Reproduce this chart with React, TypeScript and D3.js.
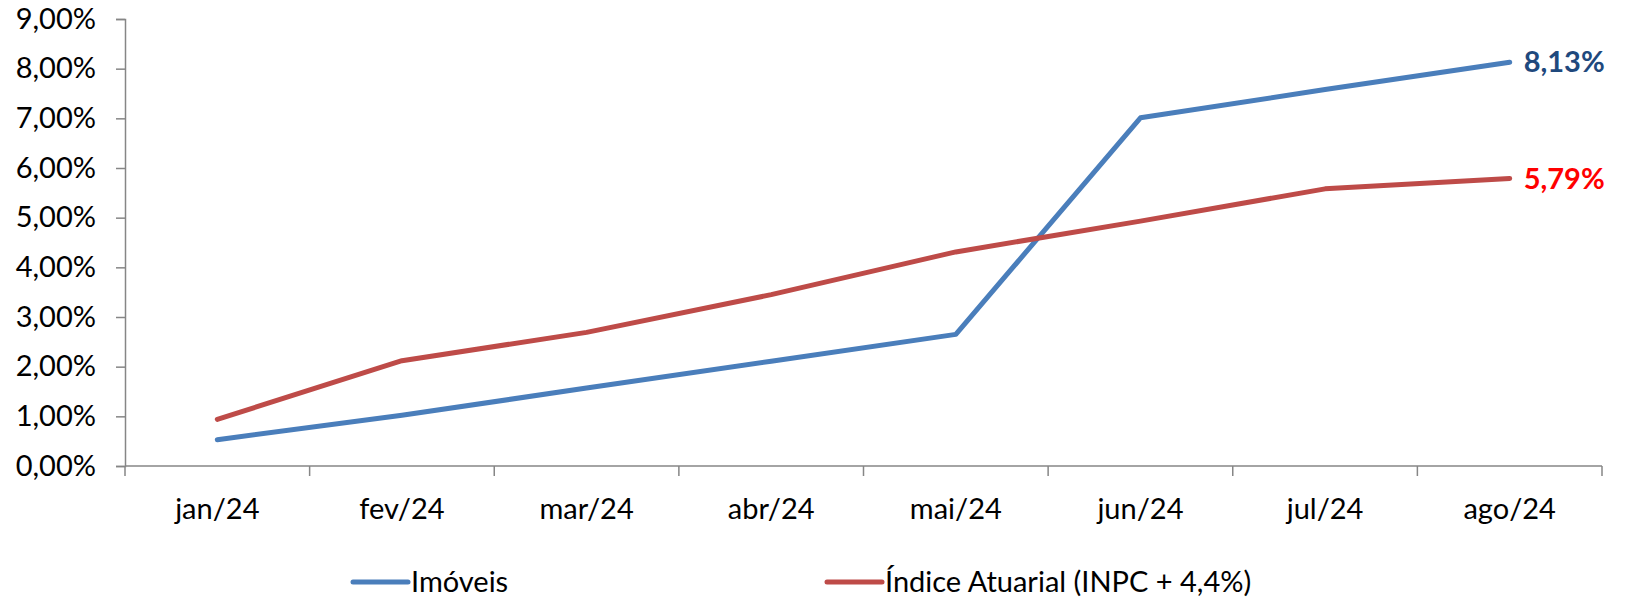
import { useRef, useEffect } from 'react'
import * as d3 from 'd3'

const WIDTH = 1626
const HEIGHT = 599
const MARGIN = { top: 19, right: 24, bottom: 133, left: 125 }
const FONT = 'Lato, "Open Sans", sans-serif'

const MONTHS = ['jan/24', 'fev/24', 'mar/24', 'abr/24', 'mai/24', 'jun/24', 'jul/24', 'ago/24']
const IMOVEIS = [0.53, 1.02, 1.57, 2.11, 2.65, 7.01, 7.58, 8.13]
const INDICE = [0.94, 2.12, 2.69, 3.45, 4.31, 4.93, 5.58, 5.79]
const Y_TICKS = [0, 1, 2, 3, 4, 5, 6, 7, 8, 9]

const SERIES = [
  { name: 'Imóveis', values: IMOVEIS, color: '#4A7EBB', labelColor: '#1F497D' },
  { name: 'Índice Atuarial (INPC + 4,4%)', values: INDICE, color: '#BE4B48', labelColor: '#FF0000' },
]

const fmt = (v: number) => v.toFixed(2).replace('.', ',') + '%'

export default function App() {
  const svgRef = useRef<SVGSVGElement>(null)

  useEffect(() => {
    if (!svgRef.current) return
    const svg = d3.select(svgRef.current)
    svg.selectAll('*').remove()

    const innerWidth = WIDTH - MARGIN.left - MARGIN.right
    const innerHeight = HEIGHT - MARGIN.top - MARGIN.bottom
    const g = svg.append('g').attr('transform', `translate(${MARGIN.left},${MARGIN.top})`)

    const x = d3.scaleBand().domain(MONTHS).range([0, innerWidth])
    const y = d3.scaleLinear().domain([0, 9]).range([innerHeight, 0])
    const axisColor = '#868686'

    // y axis
    const yAxis = g
      .append('g')
      .call(
        d3
          .axisLeft(y)
          .tickValues(Y_TICKS)
          .tickSize(9)
          .tickPadding(20)
          .tickFormat((d) => fmt(d as number)),
      )
    yAxis.select('.domain').attr('stroke', axisColor).attr('stroke-width', 1.5)
    yAxis.selectAll('.tick line').attr('stroke', axisColor).attr('stroke-width', 1.5)
    yAxis
      .selectAll('.tick text')
      .attr('fill', '#000')
      .attr('font-family', FONT)
      .attr('font-size', '29px')

    // x axis with ticks at band boundaries
    const xAxis = g.append('g').attr('transform', `translate(0,${innerHeight})`)
    xAxis
      .append('line')
      .attr('x1', 0)
      .attr('x2', innerWidth)
      .attr('stroke', axisColor)
      .attr('stroke-width', 1.5)
    const bounds = MONTHS.map((m) => x(m) ?? 0).concat([innerWidth])
    xAxis
      .selectAll('.xtick')
      .data(bounds)
      .join('line')
      .attr('x1', (d) => d)
      .attr('x2', (d) => d)
      .attr('y1', 0)
      .attr('y2', 10)
      .attr('stroke', axisColor)
      .attr('stroke-width', 1.5)
    xAxis
      .selectAll('.xlabel')
      .data(MONTHS)
      .join('text')
      .attr('x', (d) => (x(d) ?? 0) + x.bandwidth() / 2)
      .attr('y', 53)
      .attr('text-anchor', 'middle')
      .attr('font-family', FONT)
      .attr('font-size', '29px')
      .attr('fill', '#000')
      .text((d) => d)

    const line = d3
      .line<number>()
      .x((_d, i) => (x(MONTHS[i]) ?? 0) + x.bandwidth() / 2)
      .y((d) => y(d))

    SERIES.forEach((s) => {
      g.append('path')
        .datum(s.values)
        .attr('d', line)
        .attr('fill', 'none')
        .attr('stroke', s.color)
        .attr('stroke-width', 5)
        .attr('stroke-linejoin', 'round')
        .attr('stroke-linecap', 'round')

      const last = s.values[s.values.length - 1]
      g.append('text')
        .attr('x', (x(MONTHS[MONTHS.length - 1]) ?? 0) + x.bandwidth() / 2 + 14)
        .attr('y', y(last))
        .attr('dy', '0.35em')
        .attr('font-family', FONT)
        .attr('font-size', '29px')
        .attr('font-weight', 'bold')
        .attr('fill', s.labelColor)
        .text(fmt(last))
    })

    // legend
    const legendX = [353, 827]
    const legend = svg.append('g').attr('transform', `translate(0,582)`)
    SERIES.forEach((s, i) => {
      legend
        .append('line')
        .attr('x1', legendX[i])
        .attr('x2', legendX[i] + 55)
        .attr('stroke', s.color)
        .attr('stroke-width', 5)
        .attr('stroke-linecap', 'round')
      legend
        .append('text')
        .attr('x', legendX[i] + 58)
        .attr('dy', '0.35em')
        .attr('font-family', FONT)
        .attr('font-size', '29px')
        .attr('fill', '#000')
        .text(s.name)
    })
  }, [])

  return (
    <svg
      ref={svgRef}
      width={WIDTH}
      height={HEIGHT}
      style={{ position: 'absolute', left: 0, top: 0, background: '#fff' }}
    />
  )
}
